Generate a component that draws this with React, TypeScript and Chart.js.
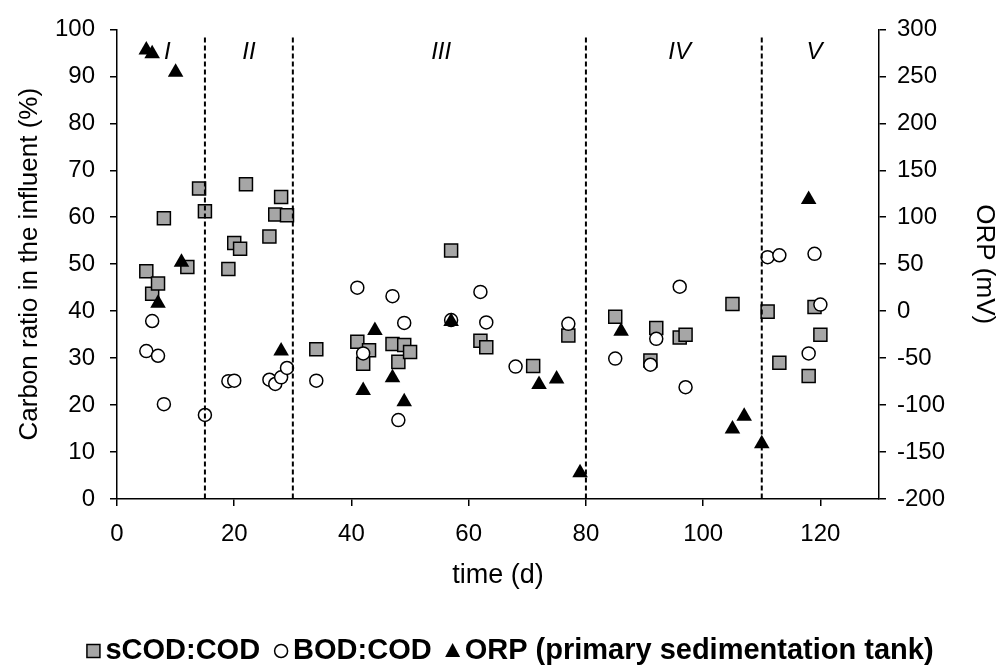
import React, { useEffect, useRef } from 'react';
import { Chart, registerables } from 'chart.js';

Chart.register(...registerables);

const scodDays = [5, 6, 7, 8, 12, 14, 15, 19, 20, 21, 22, 26, 27, 28, 29, 34, 41, 42, 43, 47, 48, 49, 50, 57, 62, 63, 71, 77, 85, 91, 92, 96, 97, 105, 111, 113, 118, 119, 120];
const scodValues = [48.5, 43.7, 45.9, 59.8, 49.4, 66.1, 61.3, 49.0, 54.5, 53.3, 67.0, 55.9, 60.6, 64.3, 60.4, 31.9, 33.5, 28.8, 31.7, 33.0, 29.2, 32.8, 31.3, 52.9, 33.7, 32.3, 28.3, 34.8, 38.8, 29.5, 36.4, 34.4, 35.0, 41.5, 39.9, 29.0, 26.2, 40.9, 35.0];

const bodDays = [5, 6, 7, 8, 15, 19, 20, 26, 27, 28, 29, 34, 41, 42, 47, 48, 49, 57, 62, 63, 68, 77, 85, 91, 92, 96, 97, 111, 113, 118, 119, 120];
const bodValues = [31.5, 37.9, 30.5, 20.2, 17.9, 25.1, 25.2, 25.4, 24.5, 25.9, 27.9, 25.2, 45.0, 31.0, 43.2, 16.8, 37.5, 38.1, 44.1, 37.6, 28.2, 37.3, 29.9, 28.6, 34.1, 45.2, 23.8, 51.5, 51.9, 31.0, 52.2, 41.4];

const orpDays = [5, 6, 7, 10, 11, 28, 42, 44, 47, 49, 57, 72, 75, 79, 86, 105, 107, 110, 118];
const orpValues = [278, 274, 8.4, 254.5, 52, -42.4, -84.6, -20.6, -71, -96.5, -10.9, -78, -72.3, -172, -21.4, -125.5, -111.9, -141.3, 118.9];

const xTickValues = [0, 20, 40, 60, 80, 100, 120];

const phaseBounds = [15, 30, 80, 110];
const phaseLabels = ['I', 'II', 'III', 'IV', 'V'];
const phaseLabelDays = [8.6, 22.5, 55.3, 96, 119];
const phaseLabelLevel = 95.2;
const phaseLineTop = 98.3;

const seriesLabels = ['sCOD:COD', 'BOD:COD', 'ORP (primary sedimentation tank)'];

const FONT = "'Liberation Sans', Arial, sans-serif";

function drawMarker(ctx: CanvasRenderingContext2D, style: string, x: number, y: number) {
  ctx.save();
  ctx.lineWidth = 1.5;
  ctx.strokeStyle = '#000';
  ctx.beginPath();
  if (style === 'rect') {
    ctx.fillStyle = '#a6a6a6';
    ctx.rect(x - 6.5, y - 6.5, 13, 13);
    ctx.fill();
    ctx.stroke();
  } else if (style === 'circle') {
    ctx.fillStyle = '#fff';
    ctx.arc(x, y, 6.5, 0, Math.PI * 2);
    ctx.fill();
    ctx.stroke();
  } else {
    ctx.fillStyle = '#000';
    ctx.moveTo(x, y - 8);
    ctx.lineTo(x + 7.5, y + 6);
    ctx.lineTo(x - 7.5, y + 6);
    ctx.closePath();
    ctx.fill();
  }
  ctx.restore();
}

const phasePlugin = {
  id: 'phases',
  afterDatasetsDraw(chart: any) {
    const { ctx } = chart;
    const xs = chart.scales.x;
    const ys = chart.scales.y;
    ctx.save();
    ctx.strokeStyle = '#000';
    ctx.lineWidth = 2;
    ctx.setLineDash([5, 3]);
    phaseBounds.forEach((d) => {
      const px = xs.getPixelForValue(d);
      ctx.beginPath();
      ctx.moveTo(px, ys.getPixelForValue(phaseLineTop));
      ctx.lineTo(px, ys.getPixelForValue(0));
      ctx.stroke();
    });
    ctx.setLineDash([]);
    ctx.fillStyle = '#000';
    ctx.font = `italic 24px ${FONT}`;
    ctx.textAlign = 'center';
    ctx.textBaseline = 'middle';
    phaseLabels.forEach((t, i) => {
      ctx.fillText(t, xs.getPixelForValue(phaseLabelDays[i]), ys.getPixelForValue(phaseLabelLevel));
    });
    ctx.restore();
  },
};

const legendPlugin = {
  id: 'customLegend',
  afterDraw(chart: any) {
    const { ctx } = chart;
    const styles = ['rect', 'circle', 'triangle'];
    ctx.save();
    ctx.font = `bold 29px ${FONT}`;
    const markerW = 14;
    const gap = 5;
    const itemGap = 14;
    const widths = seriesLabels.map((t) => ctx.measureText(t).width);
    const total = widths.reduce((a, b) => a + b, 0) + seriesLabels.length * (markerW + gap) + (seriesLabels.length - 1) * itemGap;
    let x = 510 - total / 2;
    const y = 651;
    ctx.textAlign = 'left';
    ctx.textBaseline = 'middle';
    ctx.fillStyle = '#000';
    seriesLabels.forEach((t, i) => {
      drawMarker(ctx, styles[i], x + markerW / 2, y);
      x += markerW + gap;
      ctx.fillStyle = '#000';
      ctx.fillText(t, x, y);
      x += widths[i] + itemGap;
    });
    ctx.restore();
  },
};

export default function App() {
  const ref = useRef<HTMLCanvasElement | null>(null);
  useEffect(() => {
    document.body.style.margin = '0';
    const canvas = ref.current;
    if (!canvas) return;
    const tickFont = { family: FONT, size: 24 };
    const titleFont = { family: FONT, size: 26 };
    const chart = new Chart(canvas, {
      type: 'scatter',
      data: {
        datasets: [
          {
            label: seriesLabels[0],
            data: scodDays.map((d, i) => ({ x: d, y: scodValues[i] })),
            pointStyle: 'rect',
            pointRadius: 9.2,
            backgroundColor: '#a6a6a6',
            borderColor: '#000',
            borderWidth: 1.5,
            yAxisID: 'y',
            order: 3,
          },
          {
            label: seriesLabels[1],
            data: bodDays.map((d, i) => ({ x: d, y: bodValues[i] })),
            pointStyle: 'circle',
            pointRadius: 6.5,
            backgroundColor: '#fff',
            borderColor: '#000',
            borderWidth: 1.5,
            yAxisID: 'y',
            order: 2,
          },
          {
            label: seriesLabels[2],
            data: orpDays.map((d, i) => ({ x: d, y: orpValues[i] })),
            pointStyle: 'triangle',
            pointRadius: 9,
            backgroundColor: '#000',
            borderColor: '#000',
            borderWidth: 0,
            yAxisID: 'y2',
            order: 1,
          },
        ],
      },
      options: {
        responsive: false,
        animation: false,
        layout: { padding: { top: 22, left: 0, right: 0, bottom: 0 } },
        plugins: { legend: { display: false }, tooltip: { enabled: false } },
        scales: {
          x: {
            type: 'linear',
            min: 0,
            max: 130,
            afterBuildTicks: (s: any) => {
              s.ticks = xTickValues.map((v) => ({ value: v }));
            },
            afterFit: (s: any) => {
              s.height = 168;
            },
            ticks: { stepSize: 20, font: tickFont, color: '#000', padding: 14, maxRotation: 0, autoSkip: false },
            grid: { drawOnChartArea: false, drawTicks: true, tickLength: 7, color: '#000', lineWidth: 1.5 },
            border: { display: true, color: '#000', width: 1.5 },
            title: { display: true, text: 'time (d)', font: { family: FONT, size: 27 }, color: '#000', padding: { top: 0, bottom: 75 } },
          },
          y: {
            type: 'linear',
            position: 'left',
            min: 0,
            max: 100,
            afterFit: (s: any) => {
              s.width = 117;
            },
            ticks: { stepSize: 10, font: tickFont, color: '#000', padding: 15 },
            grid: { drawOnChartArea: false, drawTicks: true, tickLength: 7, color: '#000', lineWidth: 1.5 },
            border: { display: true, color: '#000', width: 1.5 },
            title: { display: true, text: 'Carbon ratio in the influent (%)', font: titleFont, color: '#000', padding: { top: 14, bottom: 0 } },
          },
          y2: {
            type: 'linear',
            position: 'right',
            min: -200,
            max: 300,
            afterFit: (s: any) => {
              s.width = 127;
            },
            ticks: { stepSize: 50, font: tickFont, color: '#000', padding: 11 },
            grid: { drawOnChartArea: false, drawTicks: true, tickLength: 7, color: '#000', lineWidth: 1.5 },
            border: { display: true, color: '#000', width: 1.5 },
            title: { display: true, text: 'ORP (mV)', font: titleFont, color: '#000', padding: { top: 6, bottom: 0 } },
          },
        },
      },
      plugins: [phasePlugin, legendPlugin],
    });
    return () => chart.destroy();
  }, []);
  return (
    <div style={{ width: 1006, height: 667 }}>
      <canvas ref={ref} width={1006} height={667} style={{ display: 'block' }} />
    </div>
  );
}
